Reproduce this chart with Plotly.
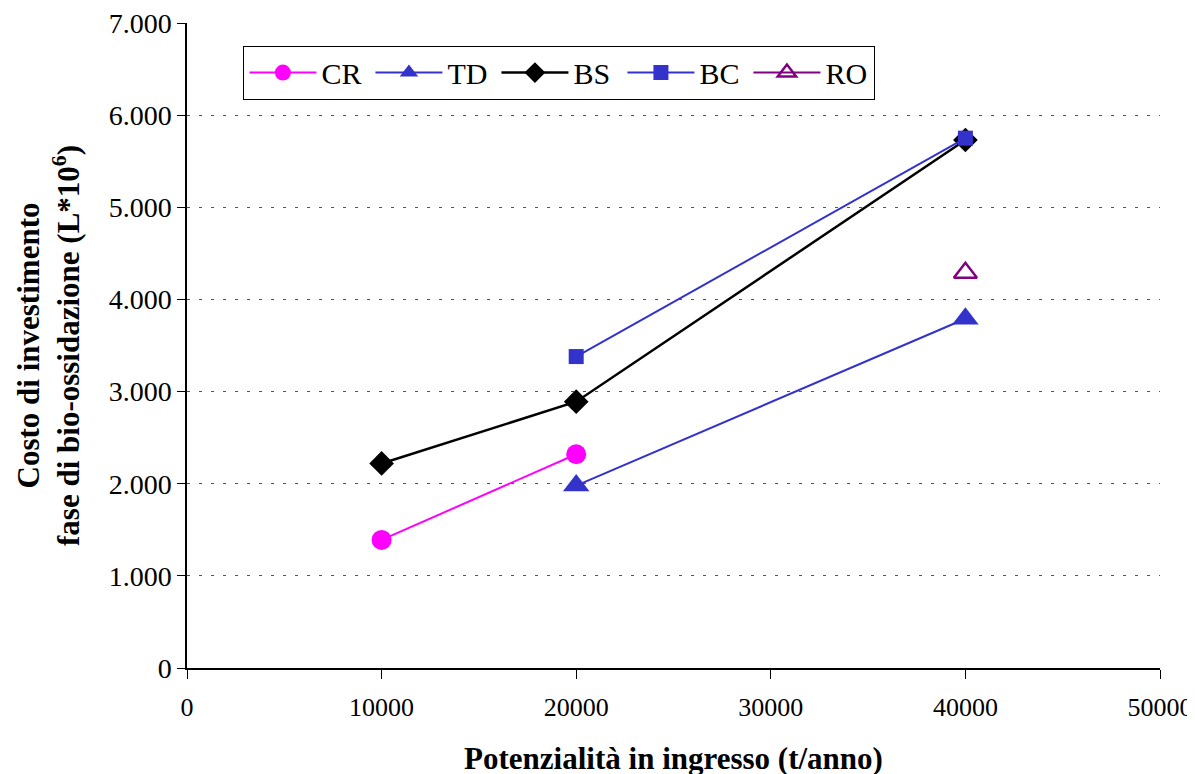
import plotly.graph_objects as go

# Data
cr_x = [10000, 20000]
cr_y = [1390, 2320]
td_x = [20000, 40000]
td_y = [1980, 3790]
bs_x = [10000, 20000, 40000]
bs_y = [2220, 2890, 5730]
bc_x = [20000, 40000]
bc_y = [3380, 5750]
ro_x = [40000]
ro_y = [4290]

y_tickvals = [0, 1000, 2000, 3000, 4000, 5000, 6000, 7000]
y_ticktext = ["0", "1.000", "2.000", "3.000", "4.000", "5.000", "6.000", "7.000"]
x_tickvals = [0, 10000, 20000, 30000, 40000, 50000]
x_ticktext = ["0", "10000", "20000", "30000", "40000", "50000"]

FONT = "Liberation Serif, Times New Roman, serif"

fig = go.Figure()
fig.add_trace(go.Scatter(x=cr_x, y=cr_y, name="CR", mode="lines+markers",
                         line=dict(color="#FF00FF", width=2),
                         marker=dict(symbol="circle", size=20, color="#FF00FF")))
fig.add_trace(go.Scatter(x=td_x, y=td_y, name="TD", mode="lines+markers",
                         line=dict(color="#3333CC", width=2),
                         marker=dict(symbol="triangle-up", size=23, color="#3333CC")))
fig.add_trace(go.Scatter(x=bs_x, y=bs_y, name="BS", mode="lines+markers",
                         line=dict(color="#000000", width=2.5),
                         marker=dict(symbol="diamond", size=19, color="#000000")))
fig.add_trace(go.Scatter(x=bc_x, y=bc_y, name="BC", mode="lines+markers",
                         line=dict(color="#3333CC", width=2),
                         marker=dict(symbol="square", size=15, color="#3333CC")))
fig.add_trace(go.Scatter(x=ro_x, y=ro_y, name="RO", mode="lines+markers",
                         line=dict(color="#800080", width=2),
                         marker=dict(symbol="triangle-up-open", size=20, color="#800080",
                                     line=dict(width=2.5, color="#800080"))))

fig.update_layout(
    width=1195, height=774,
    margin=dict(l=179, r=43, t=15, b=114),
    paper_bgcolor="white", plot_bgcolor="white",
    font=dict(family=FONT, size=26, color="black"),
    legend=dict(orientation="h", x=0.058, y=0.965, xanchor="left", yanchor="top",
                bordercolor="black", borderwidth=1, bgcolor="white",
                font=dict(family=FONT, size=30),
                itemwidth=67,
                entrywidth=44, entrywidthmode="pixels"),
    xaxis=dict(range=[0, 50000], tickvals=x_tickvals, ticktext=x_ticktext,
               showline=True, linecolor="black", linewidth=1.5,
               ticks="outside", ticklen=9, tickcolor="black",
               showgrid=False, zeroline=False, automargin=False,
               ticklabeloverflow="allow", ticklabelstandoff=6,
               tickfont=dict(family=FONT, size=26),
               title=dict(text="<b>Potenzialità in ingresso (t/anno)</b>",
                          font=dict(family=FONT, size=31), standoff=26)),
    yaxis=dict(range=[0, 7000], tickvals=y_tickvals, ticktext=y_ticktext,
               showline=True, linecolor="black", linewidth=1.5,
               ticks="outside", ticklen=8, tickcolor="black",
               showgrid=True, gridcolor="#555555", gridwidth=1, griddash="3px,9px",
               zeroline=False, ticklabeloverflow="allow", automargin=False,
               tickfont=dict(family=FONT, size=28),
               title=dict(text="<b>Costo di investimento<br>fase di bio-ossidazione (L*10<sup>6</sup>)</b>",
                          font=dict(family=FONT, size=31), standoff=20)),
)

fig.write_html("out.html")
